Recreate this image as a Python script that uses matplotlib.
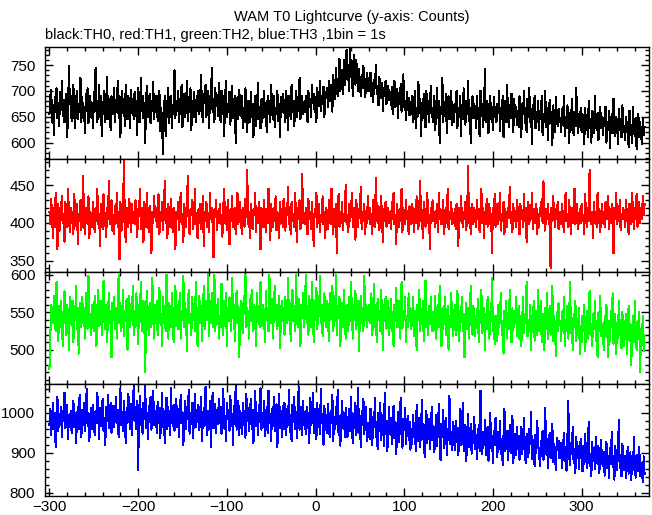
# WAM T0 lightcurve - four energy channels (TH0..TH3), 1 s bins
import numpy as np
import matplotlib.pyplot as plt
from matplotlib.ticker import MultipleLocator

plt.rcParams['font.family'] = ['Liberation Sans', 'DejaVu Sans']

# --------------------------------------------------
# Data: counts per 1 s bin, starting at t = -300 s
# (24 bins per line)
# --------------------------------------------------
t_start = -300

th0_counts = [
    655, 690, 702, 640, 672, 615, 688, 660, 705, 648, 676, 632, 698, 664, 720, 651, 683, 640, 670, 695, 610, 662, 748, 675,
    690, 642, 668, 712, 655, 628, 680, 700, 646, 675, 660, 725, 640, 688, 652, 670, 618, 694, 662, 705, 638, 676, 690, 650,
    672, 628, 698, 660, 745, 682, 640, 666, 712, 650, 690, 612, 678, 655, 700, 640, 668, 728, 646, 684, 660, 625, 690, 670,
    655, 705, 640, 680, 662, 720, 648, 690, 610, 676, 700, 658, 685, 632, 712, 668, 645, 690, 670, 628, 702, 660, 684, 645,
    698, 652, 680, 615, 705, 668, 640, 725, 662, 690, 648, 676, 600, 684, 710, 650, 672, 695, 638, 680, 662, 718, 645, 690,
    660, 690, 642, 675, 700, 622, 668, 640, 578, 655, 690, 612, 680, 650, 705, 638, 666, 690, 628, 672, 655, 740, 648, 680,
    662, 700, 640, 685, 655, 712, 630, 676, 695, 650, 668, 720, 642, 688, 660, 705, 625, 680, 650, 698, 672, 640, 690, 662,
    700, 655, 688, 730, 662, 640, 695, 676, 712, 650, 682, 700, 628, 690, 665, 745, 660, 685, 640, 705, 672, 690, 652, 715,
    668, 640, 700, 655, 690, 612, 682, 720, 650, 675, 660, 698, 635, 680, 710, 648, 672, 690, 600, 665, 688, 645, 702, 670,
    652, 690, 628, 668, 640, 705, 655, 620, 680, 662, 640, 698, 650, 675, 610, 668, 690, 632, 660, 715, 645, 670, 628, 684,
    640, 675, 700, 650, 668, 620, 690, 655, 680, 640, 712, 662, 645, 690, 630, 668, 655, 700, 642, 675, 610, 688, 660, 695,
    658, 682, 640, 700, 665, 625, 690, 676, 645, 712, 660, 680, 632, 668, 700, 650, 688, 662, 725, 645, 678, 690, 655, 670,
    660, 690, 675, 640, 700, 668, 685, 650, 712, 676, 695, 660, 688, 640, 705, 680, 670, 720, 662, 690, 675, 708, 650, 698,
    690, 705, 668, 720, 680, 712, 695, 660, 730, 700, 685, 745, 710, 690, 725, 762, 700, 718, 740, 695, 760, 712, 735, 780,
    722, 750, 700, 785, 728, 745, 690, 770, 735, 712, 760, 725, 700, 742, 715, 690, 730, 705, 748, 720, 688, 712, 735, 700,
    725, 700, 735, 690, 715, 678, 722, 705, 750, 695, 710, 672, 728, 700, 686, 715, 662, 705, 692, 720, 675, 700, 710, 682,
    698, 672, 708, 655, 690, 720, 668, 684, 703, 648, 696, 676, 713, 660, 688, 732, 668, 680, 643, 698, 663, 686, 653, 678,
    655, 690, 640, 672, 700, 628, 668, 650, 718, 660, 685, 612, 676, 648, 695, 665, 630, 700, 655, 680, 640, 672, 710, 650,
    668, 640, 690, 625, 662, 705, 648, 680, 600, 670, 655, 725, 640, 675, 660, 695, 618, 668, 690, 645, 660, 700, 635, 672,
    640, 675, 660, 700, 628, 668, 650, 690, 612, 672, 645, 705, 660, 635, 680, 655, 720, 642, 668, 600, 662, 690, 648, 675,
    660, 628, 690, 645, 668, 612, 700, 652, 675, 630, 662, 742, 640, 680, 655, 618, 672, 690, 645, 660, 625, 688, 650, 670,
    640, 675, 658, 700, 622, 668, 645, 690, 610, 662, 680, 640, 712, 655, 630, 672, 648, 695, 660, 620, 685, 652, 670, 635,
    662, 630, 690, 648, 610, 675, 655, 700, 638, 668, 620, 685, 650, 705, 640, 665, 598, 672, 645, 690, 628, 660, 640, 680,
    625, 662, 645, 690, 615, 655, 640, 700, 630, 668, 605, 650, 682, 638, 660, 595, 672, 645, 620, 688, 650, 632, 665, 640,
    648, 620, 665, 635, 690, 612, 650, 628, 672, 640, 600, 658, 625, 685, 642, 615, 660, 632, 705, 640, 618, 655, 630, 668,
    620, 655, 640, 598, 668, 632, 650, 610, 680, 628, 645, 600, 662, 635, 618, 690, 640, 625, 658, 605, 642, 670, 628, 650,
    615, 648, 632, 670, 600, 640, 625, 662, 590, 638, 655, 618, 685, 630, 612, 650, 640, 598, 665, 625, 645, 610, 672, 635,
    628, 605, 650, 620, 640, 592, 662, 615, 635, 600, 670, 625, 612, 648, 588, 632, 655, 610, 640, 620, 598, 645, 615, 630,
]

th1_counts = [
    415, 398, 432, 405, 380, 420, 395, 440, 410, 365, 425, 402, 390, 418, 435, 400, 412, 375, 428, 405, 395, 445, 410, 388,
    420, 400, 415, 385, 438, 408, 396, 425, 372, 412, 405, 430, 390, 418, 462, 402, 385, 420, 410, 398, 435, 380, 415, 405,
    395, 428, 410, 388, 420, 403, 445, 398, 412, 370, 425, 408, 392, 438, 415, 400, 382, 420, 405, 455, 398, 412, 430, 390,
    410, 385, 422, 400, 440, 395, 415, 352, 428, 405, 390, 418, 482, 400, 375, 420, 408, 395, 432, 410, 388, 425, 400, 415,
    398, 430, 405, 382, 418, 410, 445, 392, 420, 400, 375, 428, 412, 395, 440, 405, 388, 422, 410, 360, 415, 400, 435, 408,
    420, 395, 410, 438, 385, 415, 402, 428, 390, 412, 455, 400, 418, 380, 425, 408, 395, 432, 410, 388, 420, 402, 365, 415,
    405, 428, 390, 415, 440, 398, 412, 375, 425, 408, 395, 420, 462, 400, 385, 418, 410, 430, 392, 405, 445, 398, 412, 380,
    418, 400, 425, 392, 410, 435, 370, 415, 402, 428, 395, 412, 388, 440, 405, 420, 398, 355, 418, 408, 430, 390, 412, 400,
    425, 398, 410, 382, 420, 445, 400, 415, 390, 430, 408, 372, 418, 402, 435, 395, 412, 420, 385, 405, 440, 398, 415, 428,
    402, 385, 420, 410, 395, 432, 408, 470, 398, 415, 380, 425, 405, 392, 418, 410, 440, 388, 412, 400, 428, 395, 365, 420,
    410, 395, 430, 405, 388, 418, 400, 445, 412, 378, 425, 408, 395, 420, 402, 435, 390, 415, 408, 380, 428, 400, 418, 395,
    432, 405, 390, 420, 410, 448, 398, 415, 385, 428, 402, 412, 395, 440, 408, 375, 420, 405, 430, 392, 415, 465, 400, 410,
    398, 420, 410, 385, 432, 405, 415, 392, 428, 400, 370, 418, 408, 440, 395, 412, 425, 388, 410, 402, 435, 398, 415, 380,
    420, 405, 392, 430, 412, 398, 445, 408, 385, 418, 402, 425, 360, 410, 438, 395, 415, 400, 428, 390, 412, 405, 450, 398,
    410, 388, 425, 402, 415, 440, 395, 420, 408, 378, 430, 405, 395, 418, 410, 448, 392, 415, 402, 425, 385, 412, 400, 435,
    405, 420, 398, 412, 385, 430, 408, 395, 460, 415, 400, 422, 390, 410, 435, 402, 375, 418, 408, 428, 395, 412, 420, 400,
    415, 392, 428, 405, 440, 398, 410, 372, 425, 408, 395, 418, 402, 445, 388, 420, 410, 398, 430, 405, 415, 385, 422, 400,
    398, 425, 410, 388, 418, 400, 435, 405, 392, 420, 455, 402, 412, 380, 428, 408, 395, 415, 440, 400, 410, 365, 420, 405,
    430, 402, 415, 395, 410, 425, 388, 440, 405, 418, 398, 412, 430, 385, 408, 420, 400, 445, 392, 415, 405, 428, 398, 410,
    400, 418, 392, 425, 408, 370, 420, 402, 435, 410, 395, 415, 405, 428, 390, 412, 475, 400, 418, 385, 425, 408, 398, 420,
    412, 395, 430, 405, 418, 388, 410, 445, 400, 420, 380, 415, 402, 432, 395, 410, 425, 398, 412, 360, 420, 405, 438, 395,
    405, 425, 398, 415, 440, 390, 410, 402, 428, 385, 418, 405, 395, 420, 410, 448, 400, 415, 388, 425, 402, 412, 395, 430,
    418, 400, 385, 425, 408, 412, 395, 438, 402, 420, 375, 410, 428, 398, 415, 405, 440, 392, 418, 408, 400, 425, 385, 412,
    395, 420, 410, 432, 400, 455, 408, 390, 418, 405, 425, 398, 412, 340, 420, 402, 435, 410, 395, 418, 405, 428, 392, 415,
    410, 398, 425, 405, 388, 418, 440, 402, 412, 395, 430, 408, 385, 420, 400, 415, 445, 398, 410, 425, 392, 405, 418, 400,
    425, 402, 410, 385, 438, 408, 395, 420, 402, 470, 410, 398, 415, 380, 428, 405, 412, 395, 440, 400, 418, 388, 410, 425,
    400, 415, 395, 428, 410, 405, 435, 392, 418, 400, 425, 412, 360, 420, 405, 440, 398, 415, 402, 430, 390, 412, 405, 420,
    412, 395, 430, 402, 418, 385, 425, 408, 398, 440, 410, 392, 420, 405, 438, 395, 412, 428, 400, 418, 405, 435, 410, 425,
]

th2_counts = [
    475, 520, 560, 548, 535, 572, 540, 525, 590, 545, 512, 558, 530, 565, 540, 505, 552, 578, 538, 520, 560, 545, 500, 570,
    548, 532, 565, 510, 555, 540, 585, 528, 550, 495, 562, 545, 530, 570, 538, 552, 515, 575, 542, 528, 598, 550, 535, 520,
    560, 538, 525, 572, 545, 505, 555, 580, 532, 548, 565, 520, 540, 592, 550, 528, 560, 510, 545, 575, 535, 552, 490, 562,
    540, 570, 528, 555, 515, 548, 600, 535, 562, 525, 545, 580, 518, 552, 538, 568, 500, 545, 572, 530, 555, 542, 585, 520,
    552, 530, 575, 545, 508, 560, 538, 590, 525, 548, 565, 535, 470, 555, 578, 540, 520, 562, 548, 530, 595, 545, 515, 560,
    538, 565, 520, 550, 582, 535, 548, 505, 570, 542, 558, 525, 600, 540, 515, 562, 548, 530, 575, 545, 510, 555, 585, 532,
    560, 528, 548, 575, 515, 552, 540, 598, 530, 562, 545, 498, 555, 580, 535, 548, 520, 570, 542, 560, 525, 590, 545, 505,
    548, 572, 535, 558, 512, 545, 585, 528, 550, 565, 540, 602, 518, 555, 538, 575, 530, 548, 600, 525, 560, 542, 568, 515,
    545, 530, 588, 552, 520, 565, 540, 575, 505, 555, 538, 570, 548, 525, 595, 542, 560, 512, 550, 578, 535, 558, 490, 548,
    565, 540, 522, 572, 548, 600, 530, 555, 545, 515, 568, 538, 580, 552, 525, 560, 545, 505, 575, 540, 558, 530, 590, 548,
    532, 560, 545, 510, 578, 540, 555, 525, 600, 548, 535, 568, 515, 552, 585, 540, 560, 528, 550, 572, 502, 545, 565, 538,
    555, 520, 570, 548, 535, 595, 540, 562, 512, 550, 580, 538, 555, 525, 600, 545, 530, 568, 548, 505, 560, 542, 575, 530,
    548, 600, 535, 558, 520, 572, 545, 530, 590, 552, 510, 565, 540, 582, 528, 555, 545, 598, 535, 560, 518, 550, 575, 540,
    530, 565, 548, 512, 575, 540, 555, 585, 525, 550, 538, 600, 520, 558, 542, 570, 505, 548, 562, 530, 580, 545, 515, 560,
    545, 525, 570, 538, 590, 552, 515, 560, 540, 578, 528, 550, 565, 498, 545, 572, 535, 555, 525, 598, 540, 560, 530, 552,
    560, 535, 548, 575, 520, 545, 588, 530, 555, 510, 568, 540, 552, 525, 580, 545, 500, 560, 538, 570, 528, 548, 565, 520,
    540, 568, 525, 550, 505, 560, 538, 582, 530, 548, 565, 515, 545, 590, 528, 552, 540, 570, 510, 545, 530, 575, 538, 555,
    528, 545, 570, 518, 552, 535, 500, 560, 540, 580, 525, 548, 535, 565, 512, 545, 592, 530, 550, 520, 558, 538, 570, 525,
    550, 525, 538, 572, 515, 545, 560, 530, 585, 540, 505, 555, 528, 548, 570, 520, 538, 558, 500, 545, 530, 575, 540, 518,
    535, 560, 520, 545, 578, 530, 512, 552, 538, 570, 525, 548, 490, 540, 562, 528, 555, 515, 545, 585, 532, 520, 558, 540,
    518, 545, 530, 568, 510, 552, 535, 580, 522, 540, 555, 500, 548, 528, 570, 535, 515, 550, 538, 595, 525, 545, 508, 540,
    545, 512, 560, 530, 548, 575, 520, 538, 495, 552, 530, 565, 515, 542, 528, 580, 535, 510, 555, 525, 548, 535, 570, 518,
    530, 558, 515, 545, 505, 538, 570, 522, 548, 535, 590, 518, 540, 525, 560, 500, 545, 530, 565, 512, 538, 552, 520, 580,
    525, 540, 565, 510, 548, 532, 500, 555, 528, 575, 515, 540, 558, 520, 535, 585, 512, 545, 530, 492, 550, 525, 562, 535,
    538, 512, 550, 528, 570, 505, 540, 525, 558, 515, 545, 590, 522, 535, 500, 548, 530, 565, 512, 540, 525, 555, 495, 532,
    510, 545, 525, 560, 498, 530, 552, 515, 540, 578, 520, 535, 505, 548, 528, 565, 512, 538, 490, 550, 525, 572, 518, 535,
    528, 500, 545, 518, 560, 525, 490, 538, 512, 552, 530, 575, 508, 522, 548, 495, 535, 515, 565, 520, 540, 502, 550, 525,
    505, 530, 548, 495, 520, 558, 512, 535, 480, 525, 545, 510, 565, 522, 500, 538, 515, 550, 470, 528, 512, 545, 498, 520,
]

th3_counts = [
    970, 1010, 945, 990, 1025, 960, 1000, 915, 985, 1040, 955, 998, 970, 1015, 940, 1005, 980, 1050, 962, 990, 1020, 935, 995, 975,
    1005, 950, 988, 1030, 965, 1000, 925, 978, 1015, 960, 1045, 985, 940, 1008, 970, 1025, 955, 992, 1060, 968, 1000, 930, 985, 1012,
    960, 1020, 985, 945, 1005, 975, 1050, 990, 935, 1012, 968, 1000, 1035, 955, 988, 920, 1015, 980, 1045, 962, 998, 1025, 950, 990,
    1018, 965, 995, 1040, 975, 1008, 940, 988, 1060, 970, 1002, 955, 1030, 985, 925, 1012, 975, 1048, 990, 960, 1022, 945, 1000, 1070,
    980, 1015, 960, 1030, 857, 995, 1042, 970, 1010, 948, 1025, 985, 1068, 962, 1000, 935, 1018, 978, 1040, 958, 992, 1055, 970, 1005,
    1000, 950, 1028, 975, 1012, 938, 990, 1050, 965, 1005, 925, 985, 1038, 960, 1015, 978, 945, 1062, 990, 968, 1020, 955, 998, 1035,
    965, 1010, 940, 995, 1045, 975, 1002, 920, 988, 1030, 960, 1015, 985, 1058, 948, 1000, 972, 1025, 938, 992, 1048, 965, 1008, 978,
    1020, 958, 995, 1040, 930, 985, 1012, 968, 1065, 990, 945, 1005, 975, 1030, 915, 998, 1050, 962, 988, 1022, 950, 1008, 972, 1035,
    975, 1015, 948, 1000, 1060, 962, 990, 930, 1025, 985, 1008, 955, 1042, 970, 998, 920, 1018, 980, 1070, 958, 995, 1030, 945, 1005,
    990, 948, 1025, 970, 1005, 938, 1048, 980, 1012, 955, 992, 1035, 960, 1008, 925, 985, 1055, 968, 1000, 945, 1020, 978, 1062, 958,
    1000, 965, 1030, 942, 985, 1015, 950, 1055, 975, 998, 930, 1010, 968, 1040, 955, 990, 1022, 915, 980, 1048, 962, 1005, 940, 1018,
    960, 1025, 985, 945, 1010, 970, 1058, 952, 995, 930, 1020, 978, 1040, 960, 1002, 938, 985, 1065, 958, 992, 1015, 945, 1030, 970,
    985, 948, 1015, 962, 1000, 925, 1038, 970, 995, 1050, 950, 985, 1010, 935, 1025, 965, 1002, 948, 1060, 975, 990, 920, 1018, 958,
    995, 950, 1022, 968, 940, 1005, 975, 1045, 930, 988, 960, 1015, 972, 1058, 945, 992, 918, 980, 1030, 962, 1000, 940, 1012, 975,
    940, 985, 1010, 955, 1040, 968, 925, 998, 962, 1025, 945, 978, 1062, 950, 990, 915, 1005, 970, 1035, 948, 982, 1015, 930, 968,
    975, 935, 1010, 952, 920, 990, 965, 1038, 940, 978, 910, 1000, 955, 1025, 932, 970, 995, 918, 1050, 948, 980, 905, 965, 1015,
    948, 988, 923, 966, 1018, 936, 978, 898, 953, 1003, 928, 973, 1038, 943, 913, 986, 956, 1013, 923, 963, 993, 933, 978, 908,
    960, 923, 995, 940, 975, 905, 1020, 947, 930, 987, 915, 963, 1033, 935, 970, 890, 953, 1005, 925, 960, 985, 910, 943, 1015,
    932, 967, 902, 950, 994, 917, 957, 1022, 927, 882, 972, 940, 1007, 912, 947, 987, 894, 960, 932, 1042, 922, 952, 907, 977,
    945, 908, 980, 928, 962, 895, 938, 1010, 920, 952, 1025, 905, 970, 932, 880, 948, 998, 915, 940, 972, 898, 955, 925, 990,
    910, 945, 885, 928, 970, 905, 1055, 930, 898, 952, 920, 982, 895, 938, 965, 880, 925, 1000, 912, 942, 875, 955, 920, 988,
    925, 890, 952, 910, 980, 898, 935, 870, 945, 1010, 905, 928, 955, 882, 918, 970, 900, 938, 992, 875, 922, 948, 895, 965,
    910, 943, 883, 925, 965, 897, 930, 987, 905, 875, 947, 915, 890, 960, 923, 1003, 885, 933, 910, 867, 945, 900, 980, 920,
    903, 868, 930, 893, 956, 883, 913, 1013, 898, 936, 863, 918, 950, 886, 908, 973, 878, 923, 893, 858, 938, 906, 930, 886,
    895, 925, 862, 908, 950, 880, 915, 855, 935, 1030, 890, 870, 925, 900, 965, 875, 910, 850, 940, 888, 918, 860, 902, 935,
    882, 854, 917, 872, 947, 892, 862, 907, 977, 867, 897, 842, 927, 882, 904, 860, 940, 887, 872, 917, 850, 894, 932, 877,
    868, 903, 843, 888, 928, 861, 893, 838, 913, 873, 953, 865, 891, 833, 918, 878, 858, 903, 983, 863, 888, 841, 923, 871,
    856, 891, 836, 876, 914, 848, 871, 901, 831, 886, 858, 941, 866, 838, 896, 854, 881, 916, 841, 874, 858, 826, 891, 846,
]

series_counts = [th0_counts, th1_counts, th2_counts, th3_counts]
series_colors = ["black", "red", "#00ff00", "blue"]
y_ranges = [(568, 785), (336, 484), (455, 604), (792, 1073)]
y_major = [50, 50, 50, 100]
y_minor = [10, 10, 10, 20]

# --------------------------------------------------
# Figure: four stacked panels sharing the time axis
# --------------------------------------------------
fig = plt.figure(figsize=(6.52, 5.15), dpi=100)
gs = fig.add_gridspec(4, 1, left=45/652, right=649/652,
                      top=1 - 47/515, bottom=1 - 496/515, hspace=0)

for i, counts in enumerate(series_counts):
    ax = fig.add_subplot(gs[i])
    t = t_start + np.arange(len(counts))
    ax.plot(t, counts, color=series_colors[i], linewidth=0.75, antialiased=False)

    ax.set_xlim(-305, 376)
    ax.set_ylim(*y_ranges[i])
    ax.xaxis.set_major_locator(MultipleLocator(100))
    ax.xaxis.set_minor_locator(MultipleLocator(20))
    ax.yaxis.set_major_locator(MultipleLocator(y_major[i]))
    ax.yaxis.set_minor_locator(MultipleLocator(y_minor[i]))

    ax.tick_params(which="both", direction="in", top=True, right=True,
                   width=1, labelsize=11, pad=3)
    ax.tick_params(which="major", length=6)
    ax.tick_params(which="minor", length=3)
    ax.tick_params(axis="y", pad=7)
    if i < 3:
        ax.tick_params(labelbottom=False)
    for s in ax.spines.values():
        s.set_linewidth(1)

fig.text(352/652, 1 - 17/515, "WAM T0 Lightcurve (y-axis: Counts)",
         ha="center", va="center", fontsize=10.5)
fig.text(45/652, 1 - 35/515, "black:TH0, red:TH1, green:TH2, blue:TH3 ,1bin = 1s",
         ha="left", va="center", fontsize=10.5)

fig.savefig("out.png", dpi=100)
